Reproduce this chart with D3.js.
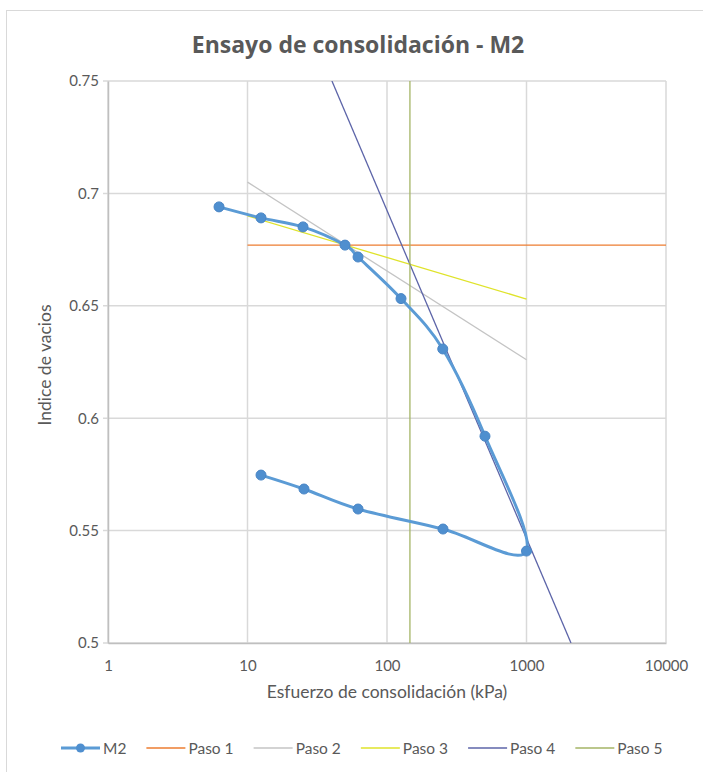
<!DOCTYPE html>
<html>
<head>
<meta charset="utf-8">
<script src="https://cdn.jsdelivr.net/npm/d3@7"></script>
<style>
  html, body { margin: 0; padding: 0; background: #fff; }
  svg { display: block; }
  text { font-family: Lato, "Open Sans", sans-serif; fill: #595959; }
</style>
</head>
<body>
<svg id="chart" width="703" height="772"></svg>
<script>
// ---- data ----
const m2Stress = [6.25, 12.5, 25, 50, 62, 126, 251, 504, 1000, 252, 62, 25.4, 12.5];
const m2Void   = [0.694, 0.6891, 0.6851, 0.677, 0.6717, 0.6532, 0.6308, 0.592, 0.5409, 0.5507, 0.5596, 0.5685, 0.5747];

const paso1Stress = [10, 10000];   const paso1Void = [0.677, 0.677];
const paso2Stress = [10, 1000];    const paso2Void = [0.705, 0.626];
const paso3Stress = [10, 1000];    const paso3Void = [0.690, 0.653];
const paso4Stress = [40.3, 2084];  const paso4Void = [0.75, 0.5];
const paso5Stress = [146, 146];    const paso5Void = [0.5, 0.75];

const xTicks = [1, 10, 100, 1000, 10000];
const yTicks = [0.5, 0.55, 0.6, 0.65, 0.7, 0.75];
const seriesNames = ["M2", "Paso 1", "Paso 2", "Paso 3", "Paso 4", "Paso 5"];
const seriesColors = ["#5b9bd5", "#ed7d31", "#c4c4c4", "#dfe32a", "#5c64a8", "#a4b566"];

// ---- layout ----
const svg = d3.select("#chart");
const L = 108, R = 666, T = 81, B = 643;

const x = d3.scaleLog().domain([1, 10000]).range([L, R]);
const y = d3.scaleLinear().domain([0.5, 0.75]).range([B, T]);

// outer chart border
svg.append("rect").attr("x", 6.5).attr("y", 10.5).attr("width", 700).attr("height", 780)
  .attr("fill", "#fff").attr("stroke", "#d9d9d9").attr("stroke-width", 1);

// title
svg.append("text").attr("x", 358).attr("y", 53).attr("text-anchor", "middle")
  .style("font-family", "'Open Sans', sans-serif")
  .style("font-size", "23px").style("font-weight", "bold").text("Ensayo de consolidación - M2");

// gridlines
const grid = svg.append("g");
grid.selectAll("line.h").data(yTicks).enter().append("line")
  .attr("x1", L - 5).attr("x2", R).attr("y1", d => y(d)).attr("y2", d => y(d))
  .attr("stroke", "#d9d9d9").attr("stroke-width", 1.5);
grid.selectAll("line.v").data(xTicks).enter().append("line")
  .attr("y1", T).attr("y2", B).attr("x1", d => x(d)).attr("x2", d => x(d))
  .attr("stroke", "#d9d9d9").attr("stroke-width", 1.5);

// axes (labels only, using d3 axes)
const yAxis = d3.axisLeft(y).tickValues(yTicks).tickFormat(d => String(+d.toFixed(2))).tickSize(0).tickPadding(9);
const gy = svg.append("g").attr("transform", `translate(${L},0)`).call(yAxis);
gy.select(".domain").attr("stroke", "#bfbfbf").attr("stroke-width", 1.5);
gy.selectAll("text").style("font-size", "15px").style("font-family", "Lato, sans-serif").attr("fill", "#595959");

const xAxis = d3.axisBottom(x).tickValues(xTicks).tickFormat(d3.format("d")).tickSize(0).tickPadding(17);
const gx = svg.append("g").attr("transform", `translate(0,${B})`).call(xAxis);
gx.select(".domain").attr("stroke", "#bfbfbf").attr("stroke-width", 1.5);
gx.selectAll("text").style("font-size", "15px").style("font-family", "Lato, sans-serif").attr("fill", "#595959");

// axis titles
svg.append("text").attr("x", 387).attr("y", 698).attr("text-anchor", "middle")
  .style("font-size", "17.5px").text("Esfuerzo de consolidación (kPa)");
svg.append("text").attr("transform", "translate(51,365) rotate(-90)").attr("text-anchor", "middle")
  .style("font-size", "17.5px").text("Indice de vacios");

// clip
svg.append("clipPath").attr("id", "plotclip").append("rect")
  .attr("x", L).attr("y", T).attr("width", R - L).attr("height", B - T);
const plot = svg.append("g").attr("clip-path", "url(#plotclip)");

const straight = d3.line().x(d => x(d[0])).y(d => y(d[1]));
const pasos = [
  [paso1Stress, paso1Void], [paso2Stress, paso2Void], [paso3Stress, paso3Void],
  [paso4Stress, paso4Void], [paso5Stress, paso5Void]
];
pasos.forEach((p, i) => {
  const pts = p[0].map((s, k) => [s, p[1][k]]);
  plot.append("path").datum(pts).attr("d", straight)
    .attr("fill", "none").attr("stroke", seriesColors[i + 1]).attr("stroke-width", 1.3);
});

// M2 series (smoothed)
const m2 = m2Stress.map((s, k) => [s, m2Void[k]]);
const smooth = d3.line().x(d => x(d[0])).y(d => y(d[1])).curve(d3.curveCardinal.tension(0));
svg.append("path").datum(m2).attr("d", smooth)
  .attr("fill", "none").attr("stroke", seriesColors[0]).attr("stroke-width", 3).attr("stroke-linejoin", "round");
svg.selectAll("circle.m2").data(m2).enter().append("circle")
  .attr("cx", d => x(d[0])).attr("cy", d => y(d[1])).attr("r", 5)
  .attr("fill", "#4f8fcf").attr("stroke", "#4a86c6").attr("stroke-width", 1);

// legend
const leg = svg.append("g");
let lx = 61;
const ly = 748;
seriesNames.forEach((name, i) => {
  leg.append("line").attr("x1", lx).attr("x2", lx + 39).attr("y1", ly).attr("y2", ly)
    .attr("stroke", seriesColors[i]).attr("stroke-width", i === 0 ? 3 : 1.5);
  if (i === 0) {
    leg.append("circle").attr("cx", lx + 19.5).attr("cy", ly).attr("r", 4.5).attr("fill", "#4f8fcf");
  }
  const t = leg.append("text").attr("x", lx + 42).attr("y", ly + 5.5)
    .style("font-size", "15.5px").text(name);
  lx += 42 + t.node().getComputedTextLength() + 20;
});
</script>
</body>
</html>
